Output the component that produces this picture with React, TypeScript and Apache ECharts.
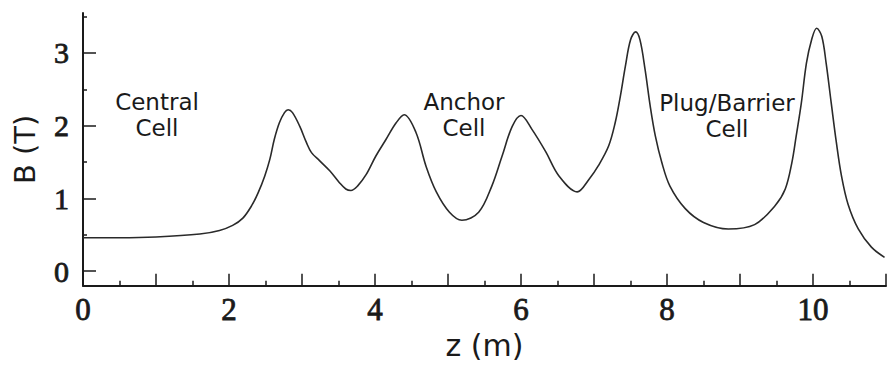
import React, { useEffect, useRef } from "react";
import * as echarts from "echarts";

const zValues = [
  0, 0.5, 1.0, 1.6, 1.87, 2.05, 2.19, 2.31, 2.4, 2.49, 2.56, 2.62, 2.69, 2.76, 2.81, 2.87, 2.97,
  3.06, 3.13, 3.24, 3.38, 3.51, 3.6, 3.67, 3.76, 3.88, 4.01, 4.15, 4.29, 4.4, 4.56, 4.7, 4.84,
  5.02, 5.19, 5.42, 5.6, 5.74, 5.88, 6.0, 6.15, 6.34, 6.52, 6.77, 6.93, 7.06, 7.2, 7.29, 7.36,
  7.43, 7.5, 7.57, 7.63, 7.7, 7.77, 7.84, 7.93, 8.04, 8.25, 8.5, 8.84, 9.2, 9.48, 9.62,
  9.71, 9.77, 9.84, 9.91, 9.98, 10.05, 10.12, 10.18, 10.25, 10.32, 10.39, 10.48, 10.62, 10.8, 10.98,
];
const bValues = [
  0.46, 0.46, 0.47, 0.51, 0.56, 0.63, 0.73, 0.9, 1.08, 1.31, 1.54, 1.81, 2.04, 2.18, 2.22, 2.18, 1.99,
  1.77, 1.63, 1.52, 1.38, 1.22, 1.13, 1.11, 1.17, 1.33, 1.58, 1.81, 2.04, 2.15, 1.91, 1.44, 1.09,
  0.81, 0.7, 0.81, 1.17, 1.58, 1.99, 2.14, 1.95, 1.64, 1.31, 1.09, 1.26, 1.45, 1.72, 2.04, 2.4,
  2.82, 3.18, 3.29, 3.18, 2.77, 2.27, 1.86, 1.49, 1.17, 0.86, 0.67, 0.58, 0.64, 0.9, 1.13,
  1.49, 1.86, 2.31, 2.86, 3.18, 3.34, 3.23, 2.86, 2.31, 1.77, 1.31, 0.92, 0.58, 0.33, 0.19,
];
const yMajorTicks = [0, 1, 2, 3];
const yMinorTicks = [0.5, 1.5, 2.5, 3.5];
const xLabelValues = [0, 2, 4, 6, 8, 10];
const annotations = [
  { text: "Central\nCell", x: 157, y: 115 },
  { text: "Anchor\nCell", x: 464, y: 115 },
  { text: "Plug/Barrier\nCell", x: 727, y: 116 },
];

export default function App() {
  const ref = useRef<HTMLDivElement>(null);
  useEffect(() => {
    if (!ref.current) return;
    const chart = echarts.init(ref.current, null, { renderer: "svg" });
    const ink = "#1a1a1a";
    chart.setOption({
      animation: false,
      backgroundColor: "#ffffff",
      grid: { left: 83, right: 1, top: 13, bottom: 78 },
      xAxis: {
        type: "value",
        min: 0,
        max: 11,
        interval: 1,
        name: "z (m)",
        nameLocation: "middle",
        nameGap: 44,
        nameTextStyle: { fontFamily: "DejaVu Sans", fontSize: 30, color: ink },
        axisLine: { show: true, onZero: false, lineStyle: { color: ink, width: 2 } },
        axisTick: { show: true, inside: true, length: 12, lineStyle: { color: ink, width: 1.5 } },
        minorTick: { show: true, splitNumber: 2, length: 5, lineStyle: { color: ink, width: 1.5 } },
        splitLine: { show: false },
        minorSplitLine: { show: false },
        axisLabel: {
          fontFamily: "Liberation Serif",
          fontSize: 31,
          color: ink,
          textBorderColor: ink,
          textBorderWidth: 0.8,
          margin: 8,
          formatter: (v: number) => (xLabelValues.indexOf(v) >= 0 ? String(v) : ""),
        },
      },
      yAxis: [
        {
          type: "value",
          min: -0.2,
          max: 3.55,
          name: "B (T)",
          nameLocation: "middle",
          nameGap: 44,
          nameTextStyle: { fontFamily: "DejaVu Sans", fontSize: 29, color: ink },
          axisLine: { show: true, onZero: false, lineStyle: { color: ink, width: 2 } },
          axisTick: {
            show: true,
            inside: true,
            length: 13,
            customValues: yMajorTicks,
            lineStyle: { color: ink, width: 1.5 },
          },
          splitLine: { show: false },
          axisLabel: {
            fontFamily: "Liberation Serif",
            fontSize: 30,
            color: ink,
            textBorderColor: ink,
            textBorderWidth: 0.8,
            margin: 14,
            customValues: yMajorTicks,
          },
        },
        {
          type: "value",
          min: -0.2,
          max: 3.55,
          position: "left",
          axisLine: { show: false },
          axisTick: {
            show: true,
            inside: true,
            length: 4,
            customValues: yMinorTicks,
            lineStyle: { color: ink, width: 1.5 },
          },
          splitLine: { show: false },
          axisLabel: { show: false },
        },
      ],
      series: [
        {
          type: "line",
          data: zValues.map((z, i) => [z, bValues[i]]),
          yAxisIndex: 0,
          showSymbol: false,
          smooth: 0.35,
          lineStyle: { color: "#2a2a2a", width: 1.6 },
        },
      ],
      graphic: annotations.map((a) => ({
        type: "text",
        x: a.x,
        y: a.y,
        style: {
          text: a.text,
          font: '23px "DejaVu Sans"',
          fill: ink,
          align: "center",
          verticalAlign: "middle",
          lineHeight: 26,
        },
      })),
    });
    return () => chart.dispose();
  }, []);
  return (
    <div
      ref={ref}
      style={{ position: "fixed", left: 0, top: 0, width: 889, height: 365, background: "#fff" }}
    />
  );
}
